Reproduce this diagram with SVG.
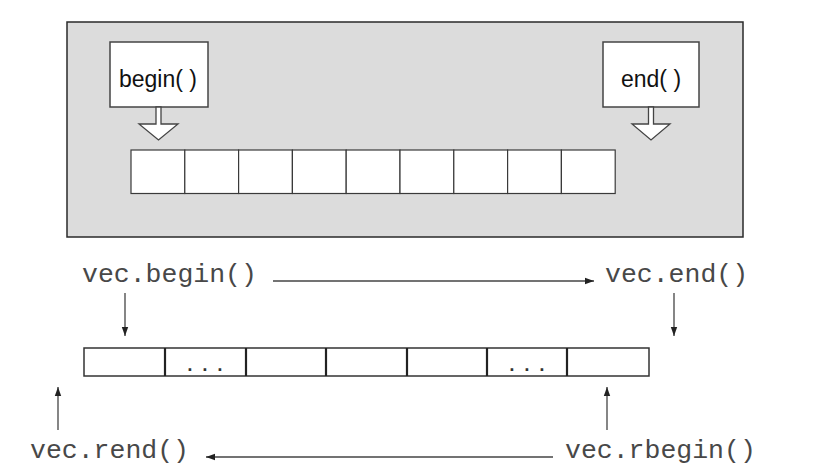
<svg xmlns="http://www.w3.org/2000/svg" width="825" height="471" viewBox="0 0 825 471">
  <style>
    .panel { fill: #dcdcdc; stroke: #2a2a2a; stroke-width: 1.5; }
    .box { fill: #ffffff; stroke: #444444; stroke-width: 1.5; }
    .cell { fill: #ffffff; stroke: #3a3a3a; stroke-width: 1.2; }
    .hollow { fill: #ffffff; stroke: #444444; stroke-width: 1.3; stroke-linejoin: miter; }
    .lbl { font-family: "Liberation Sans", Arial, sans-serif; font-size: 23px; fill: #111111; text-anchor: middle; }
    .code { font-family: "Liberation Mono", "Courier New", monospace; font-size: 26.5px; fill: #484848; }
    .dots { font-family: "Liberation Mono", "Courier New", monospace; font-size: 18px; font-weight: bold; fill: #333333; letter-spacing: 4.2px; }
    .arr { fill: none; stroke: #444444; stroke-width: 1.3; marker-end: url(#head); }
    .bar { fill: #ffffff; stroke: #333333; stroke-width: 1.5; }
    .div { stroke: #222222; stroke-width: 2.2; }
  </style>
  <defs>
    <marker id="head" markerWidth="10" markerHeight="8" refX="9" refY="4" orient="auto" markerUnits="userSpaceOnUse">
      <path d="M0,0.8 L9,4 L0,7.2 Z" fill="#222222"/>
    </marker>
  </defs>

  <rect width="825" height="471" fill="#ffffff"/>

  <!-- Top panel -->
  <g id="panel">
    <rect class="panel" x="67" y="22" width="676" height="215"/>
  </g>

  <g id="array-top">
    <rect class="cell" x="131" y="150" width="53.8" height="43.5"/>
    <rect class="cell" x="184.8" y="150" width="53.8" height="43.5"/>
    <rect class="cell" x="238.6" y="150" width="53.8" height="43.5"/>
    <rect class="cell" x="292.4" y="150" width="53.8" height="43.5"/>
    <rect class="cell" x="346.2" y="150" width="53.8" height="43.5"/>
    <rect class="cell" x="400" y="150" width="53.8" height="43.5"/>
    <rect class="cell" x="453.8" y="150" width="53.8" height="43.5"/>
    <rect class="cell" x="507.6" y="150" width="53.8" height="43.5"/>
    <rect class="cell" x="561.4" y="150" width="53.8" height="43.5"/>
  </g>

  <g id="begin-node">
    <rect class="box" x="110" y="42" width="98" height="65"/>
    <text class="lbl" x="158" y="87">begin( )</text>
    <polygon class="hollow" points="156,107 161,107 161,124 178,124 158.5,140 139,124 156,124"/>
  </g>

  <g id="end-node">
    <rect class="box" x="603" y="42" width="96" height="65"/>
    <text class="lbl" x="651" y="87">end( )</text>
    <polygon class="hollow" points="648.5,107 653.5,107 653.5,124 670,124 651,140 632,124 648.5,124"/>
  </g>

  <!-- Bottom array -->
  <g id="array-bottom">
    <rect class="bar" x="84" y="348" width="565" height="28"/>
    <line class="div" x1="165" y1="348" x2="165" y2="376"/>
    <line class="div" x1="246" y1="348" x2="246" y2="376"/>
    <line class="div" x1="326" y1="348" x2="326" y2="376"/>
    <line class="div" x1="407" y1="348" x2="407" y2="376"/>
    <line class="div" x1="487" y1="348" x2="487" y2="376"/>
    <line class="div" x1="567" y1="348" x2="567" y2="376"/>
    <text class="dots" x="184.6" y="371">...</text>
    <text class="dots" x="506.6" y="371">...</text>
  </g>

  <g id="vec-begin"><text class="code" x="82" y="282">vec.begin()</text></g>
  <g id="vec-end"><text class="code" x="605" y="282">vec.end()</text></g>
  <g id="vec-rend"><text class="code" x="30" y="458">vec.rend()</text></g>
  <g id="vec-rbegin"><text class="code" x="565" y="458">vec.rbegin()</text></g>

  <g id="connectors">
    <line class="arr" x1="273" y1="281" x2="594" y2="281"/>
    <line class="arr" x1="553" y1="457" x2="206" y2="457"/>
    <line class="arr" x1="125" y1="293" x2="125" y2="336"/>
    <line class="arr" x1="674" y1="293" x2="674" y2="336"/>
    <line class="arr" x1="58" y1="430" x2="58" y2="387"/>
    <line class="arr" x1="607" y1="430" x2="607" y2="387"/>
  </g>
</svg>
